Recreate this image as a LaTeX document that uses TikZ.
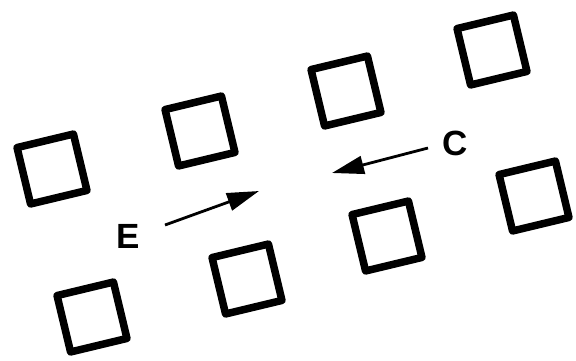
\documentclass[tikz,border=0pt]{standalone}
\usepackage{fontspec}
\setmainfont{Liberation Sans}
\usetikzlibrary{arrows.meta}

\begin{document}
\begin{tikzpicture}[x=1pt, y=-1pt,
  tag/.style={font=\bfseries\fontsize{35}{37}\selectfont, inner sep=0pt},
  cell/.style={draw, line width=7.5pt, line join=round, rotate=13.5,
               minimum size=58pt, inner sep=0pt},
  flow/.style={line width=2.8pt, -{Triangle[length=32pt, width=18pt]}}]

\useasboundingbox (0,0) rectangle (576,360);

%% ── Upper row of cells ───────────────────────────────────────────────────────
\foreach \n/\px/\py in {1/52/169, 2/200/131, 3/346/91, 4/492/50}{
  \node[cell] (u\n) at (\px,\py) {};
}

%% ── Lower row of cells ───────────────────────────────────────────────────────
\foreach \n/\px/\py in {1/92/317, 2/247/279, 3/387/236, 4/534/196}{
  \node[cell] (l\n) at (\px,\py) {};
}

%% ── Labels ───────────────────────────────────────────────────────────────────
\node[tag] (lblE) at (128,236) {E};
\node[tag] (lblC) at (455.5,143) {C};

%% ── Arrows ───────────────────────────────────────────────────────────────────
\coordinate (etail) at (165,225);
\coordinate (ehead) at (259,191);
\coordinate (ctail) at (428,148);
\coordinate (chead) at (332,173);

\draw[flow] (etail) -- (ehead);
\draw[flow] (ctail) -- (chead);

\end{tikzpicture}
\end{document}
